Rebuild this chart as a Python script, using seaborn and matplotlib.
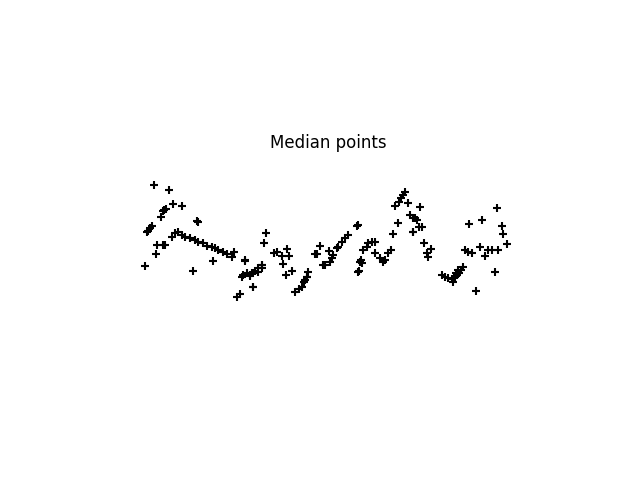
import matplotlib
matplotlib.use("Agg")
import matplotlib.pyplot as plt
import seaborn as sns
import pandas as pd

# Point positions (x to the right, y upward)
px = [154, 169, 173, 182, 166, 164, 163, 161, 197, 152, 150, 148, 147,
      157, 163, 156, 145, 193,
      172, 175, 178, 182, 185, 190, 195, 198, 203, 207, 212, 215, 218, 223, 227, 232, 234,
      213, 165, 198, 245,
      243, 247, 250, 253, 258, 262, 262, 253, 237, 240, 245, 242,
      266, 264, 277, 274, 287, 282, 289, 283, 292, 286,
      262, 258, 255, 252, 250, 253,
      307, 304, 302, 299, 295,
      357, 348, 345, 342, 338, 337, 320, 315, 317, 329, 333, 332, 330, 325, 323,
      308, 307, 305, 360, 358,
      405, 403, 401, 399, 395, 408, 410, 413, 398, 413, 393, 358,
      375, 372, 368, 367, 363, 391, 388, 375, 361, 362, 380, 383, 385, 359,
      420, 415, 417, 422, 419, 413, 424, 431, 427, 428,
      442, 445, 448, 452, 453, 456, 458,
      497, 469, 482, 502, 503, 507, 465, 468, 472, 480, 485, 488, 492, 498, 495,
      463, 461, 459, 457, 455, 476]
py = [185, 190, 204, 206, 209, 210, 211, 217, 221, 226, 228, 231, 232,
      245, 245, 254, 266, 271,
      237, 233, 232, 235, 237, 238, 240, 242, 243, 246, 247, 248, 250, 252, 254, 257, 252,
      261, 245, 222, 260,
      275, 273, 276, 273, 272, 268, 265, 287, 297, 294, 261, 277,
      233, 243, 252, 253, 249, 256, 256, 264, 271, 275,
      265, 268, 271, 273, 275, 287,
      277, 282, 287, 289, 292,
      226, 235, 238, 242, 247, 248, 246, 254, 254, 251, 255, 258, 262, 265, 265,
      272, 277, 280, 262, 272,
      192, 195, 198, 202, 206, 203, 215, 218, 223, 232, 234, 225,
      242, 242, 243, 247, 250, 250, 253, 253, 260, 263, 258, 262, 260, 271,
      207, 218, 220, 227, 227, 232, 243, 249, 253, 257,
      275, 277, 278, 279, 282, 273, 270,
      208, 224, 220, 226, 234, 244, 250, 252, 253, 247, 256, 250, 250, 250, 272,
      267, 270, 273, 275, 277, 291]

xs = px
ys = [480 - v for v in py]
df = pd.DataFrame({"x": xs, "y": ys})

sns.set_style("white")
fig = plt.figure(figsize=(6.4, 4.8), dpi=100)
ax = fig.add_axes([80 / 640, (480 - 329) / 480, 496 / 640, (329 - 156) / 480])
sns.scatterplot(data=df, x="x", y="y", marker="+", color="black",
                s=28, linewidth=1.5, ax=ax, legend=False)
ax.set_xlim(80, 576)
ax.set_ylim(480 - 329, 480 - 156)
ax.set_title("Median points", fontsize=12, color="black")
ax.axis("off")
fig.savefig("out.png", dpi=100)
